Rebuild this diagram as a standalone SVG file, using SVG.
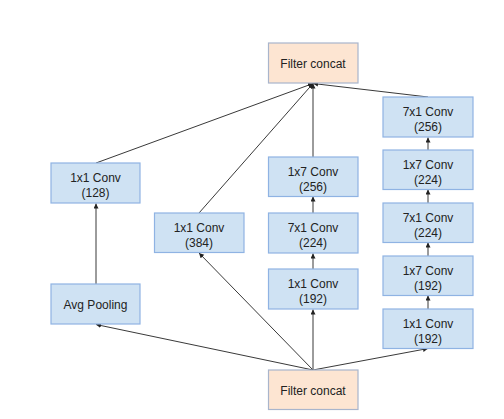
<svg xmlns="http://www.w3.org/2000/svg" width="504" height="419" viewBox="0 0 504 419">
<style>
.conv{fill:#cfe2f3;stroke:#8fb3e3;stroke-width:1.2}
.cat{fill:#fde5d2;stroke:#a9b5cc;stroke-width:1.2}
text{font-family:"Liberation Sans",Arial,sans-serif;font-size:12px;fill:#222;text-anchor:middle}
.edge{stroke:#222;stroke-width:0.9;fill:none;marker-end:url(#ah)}
</style>
<defs>
<marker id="ah" markerUnits="userSpaceOnUse" markerWidth="6" markerHeight="6" refX="5" refY="2.5" orient="auto">
<path d="M0,0 L5,2.5 L0,5 Z" fill="#222"/>
</marker>
</defs>
<rect width="504" height="419" fill="#fff"/>
<g id="connectors">
<line class="edge" x1="313" y1="370" x2="96" y2="324.5"/>
<line class="edge" x1="313" y1="370" x2="199" y2="253"/>
<line class="edge" x1="313" y1="370" x2="313" y2="309.5"/>
<line class="edge" x1="313" y1="370" x2="428" y2="348.5"/>
<line class="edge" x1="96" y1="284" x2="96" y2="203.5"/>
<line class="edge" x1="313" y1="269" x2="313" y2="253.5"/>
<line class="edge" x1="313" y1="213" x2="313" y2="196.5"/>
<line class="edge" x1="428" y1="309" x2="428" y2="295.5"/>
<line class="edge" x1="428" y1="256" x2="428" y2="242.5"/>
<line class="edge" x1="428" y1="203" x2="428" y2="189.5"/>
<line class="edge" x1="428" y1="150" x2="428" y2="137.5"/>
<line class="edge" x1="96" y1="163" x2="313" y2="83.5"/>
<line class="edge" x1="199" y1="213" x2="313" y2="83.5"/>
<line class="edge" x1="313" y1="157" x2="313" y2="83.5"/>
<line class="edge" x1="428" y1="97" x2="313" y2="83.5"/>
</g>
<g id="concat_top"><rect class="cat" x="268.5" y="43" width="89.5" height="40"/><text x="313" y="67.5">Filter concat</text></g>
<g id="concat_bottom"><rect class="cat" x="268.5" y="370" width="89.5" height="39.5"/><text x="313" y="394.5">Filter concat</text></g>
<g id="avgpool"><rect class="conv" x="51" y="284" width="89" height="40"/><text x="95.5" y="308.5">Avg Pooling</text></g>
<g id="conv128"><rect class="conv" x="51" y="163" width="89" height="40"/><text x="95.5" y="181.5">1x1 Conv</text><text x="95.5" y="196.5">(128)</text></g>
<g id="conv384"><rect class="conv" x="154.5" y="213" width="89.5" height="39.5"/><text x="199" y="231.5">1x1 Conv</text><text x="199" y="246.5">(384)</text></g>
<g id="m_conv192"><rect class="conv" x="268.5" y="269" width="89.5" height="40"/><text x="313" y="287.5">1x1 Conv</text><text x="313" y="302.5">(192)</text></g>
<g id="m_conv7x1_224"><rect class="conv" x="268.5" y="213" width="89.5" height="40"/><text x="313" y="231.5">7x1 Conv</text><text x="313" y="246.5">(224)</text></g>
<g id="m_conv1x7_256"><rect class="conv" x="268.5" y="157" width="89.5" height="39.5"/><text x="313" y="175.5">1x7 Conv</text><text x="313" y="190.5">(256)</text></g>
<g id="r_conv1x1_192"><rect class="conv" x="383" y="309" width="90" height="39.5"/><text x="428" y="327.5">1x1 Conv</text><text x="428" y="342.5">(192)</text></g>
<g id="r_conv1x7_192"><rect class="conv" x="383" y="256" width="90" height="39.5"/><text x="428" y="274.5">1x7 Conv</text><text x="428" y="289.5">(192)</text></g>
<g id="r_conv7x1_224"><rect class="conv" x="383" y="203" width="90" height="39.5"/><text x="428" y="221.5">7x1 Conv</text><text x="428" y="236.5">(224)</text></g>
<g id="r_conv1x7_224"><rect class="conv" x="383" y="150" width="90" height="39.5"/><text x="428" y="168.5">1x7 Conv</text><text x="428" y="183.5">(224)</text></g>
<g id="r_conv7x1_256"><rect class="conv" x="383" y="97" width="90" height="40"/><text x="428" y="115.5">7x1 Conv</text><text x="428" y="130.5">(256)</text></g>
</svg>
